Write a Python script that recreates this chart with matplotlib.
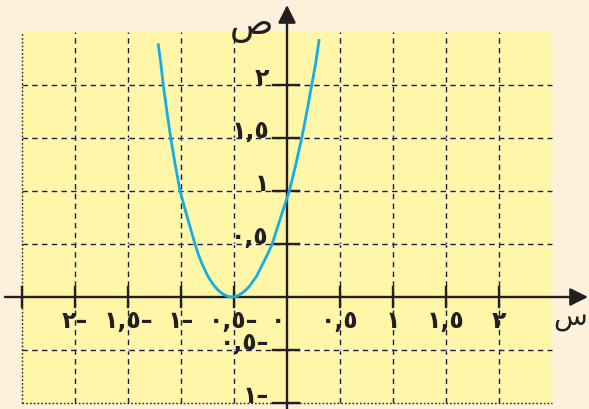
import numpy as np
import matplotlib.pyplot as plt
from matplotlib.patches import Rectangle

plt.rcParams['font.family'] = ['DejaVu Sans', 'Noto Sans']

# curve points (left arm top -> vertex -> right arm top)
curve_x = [-1.214, -1.19, -1.167, -1.133, -1.097, -1.055, -1.009, -0.94, -0.868,
           -0.836, -0.796, -0.748, -0.718, -0.682, -0.645, -0.608, -0.57, -0.545, -0.52,
           -0.495, -0.47, -0.433, -0.395, -0.355, -0.32, -0.285, -0.235, -0.185,
           -0.14, -0.06, 0.022, 0.083, 0.139, 0.188, 0.233, 0.27, 0.302]
curve_y = [2.38, 2.2, 2.0, 1.75, 1.5, 1.25, 1.0, 0.75, 0.5,
           0.4, 0.3, 0.2, 0.15, 0.1, 0.06, 0.03, 0.01, 0.0025, 0.0,
           0.0025, 0.01, 0.03, 0.06, 0.1, 0.15, 0.2, 0.3, 0.4,
           0.5, 0.75, 1.0, 1.25, 1.5, 1.75, 2.0, 2.2, 2.42]

x_ticks = [-2, -1.5, -1, -0.5, 0, 0.5, 1, 1.5, 2]
x_labels = ['٢–', '١,٥–', '١–', '٠,٥–', '٠', '٠,٥', '١', '١,٥', '٢']
y_ticks = [2, 1.5, 1, 0.5, -0.5, -1]
y_labels = ['٢', '١,٥', '١', '٠,٥', '٠,٥–', '١–']

bg = '#FDF1DB'
grid_bg = '#FFF6A8'
blue = '#14ADE6'
ink = '#231F20'

fig = plt.figure(figsize=(5.89, 4.09), dpi=100, facecolor=bg)
ax = fig.add_axes([0, 0, 1, 1])
ax.set_xlim(-287 / 106, 302 / 106)
ax.set_ylim(-112 / 106, 297 / 106)
ax.set_axis_off()

# grid area
ax.add_patch(Rectangle((-2.5, -1), 5, 3.5, facecolor=grid_bg, edgecolor='none', zorder=0))
for gx in np.arange(-2.0, 2.01, 0.5):
    if abs(gx) < 1e-9:
        continue
    ax.plot([gx, gx], [-1, 2.5], color='white', lw=1.0, zorder=1)
    ax.plot([gx, gx], [-1, 2.5], color=ink, lw=1.0, dashes=(4, 3), zorder=1)
for gy in [-0.5, 0.5, 1, 1.5, 2]:
    ax.plot([-2.5, 2.5], [gy, gy], color='white', lw=1.0, zorder=1)
    ax.plot([-2.5, 2.5], [gy, gy], color=ink, lw=1.0, dashes=(4, 3), zorder=1)
# dotted edges
ax.plot([-2.5, -2.5], [-1, 2.5], color=ink, lw=1.0, dashes=(1.2, 1.5), zorder=1)
ax.plot([-2.5, 2.5], [-1, -1], color=ink, lw=1.0, dashes=(1.2, 1.5), zorder=1)

# axes with arrows
arrow = dict(arrowstyle='-|>,head_length=0.6,head_width=0.3',
             mutation_scale=18, lw=1.7, color=ink, shrinkA=0, shrinkB=0)
ax.annotate('', xy=(301 / 106, 0), xytext=(-282 / 106, 0), arrowprops=arrow, zorder=3)
ax.annotate('', xy=(0, 292 / 106), xytext=(0, -115 / 106), arrowprops=arrow, zorder=3)

# tick marks
for tx in [-2.5, -2, -1.5, -1, -0.5, 0.5, 1, 1.5, 2]:
    ax.plot([tx, tx], [-0.09, 0.09], color=ink, lw=1.7, zorder=3)
for ty in y_ticks:
    ax.plot([-0.13, 0.11], [ty, ty], color=ink, lw=1.7, zorder=3)

# curve
ax.plot(curve_x, curve_y, color=blue, lw=2.0, zorder=4, solid_joinstyle='round')

# tick labels
for tx, lab in zip(x_ticks, x_labels):
    px = tx - 0.08 if tx == 0 else tx
    ax.text(px, -0.23, lab, ha='center', va='center', fontsize=17,
            fontweight='bold', color=ink, zorder=5)
for ty, lab in zip(y_ticks, y_labels):
    ax.text(-0.17, ty + 0.07, lab, ha='right', va='center', fontsize=17,
            fontweight='bold', color=ink, zorder=5)

# axis names
ax.text(-0.33, 2.56, 'ص', ha='center', va='center', fontsize=26, color=ink)
ax.text(2.67, -0.19, 'س', ha='center', va='center', fontsize=20, color=ink)

fig.savefig('out.png', dpi=100, facecolor=bg)
